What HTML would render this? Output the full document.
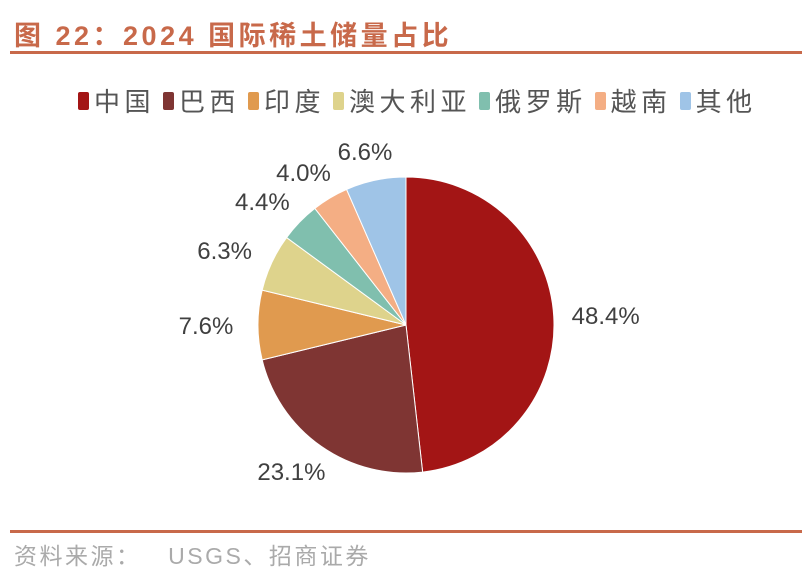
<!DOCTYPE html>
<html><head><meta charset="utf-8"><style>
body{margin:0;background:#fff;width:802px;height:582px;overflow:hidden;position:relative;font-family:"Liberation Sans","Noto Sans CJK SC",sans-serif}
.title{position:absolute;left:14px;top:14px;font-size:27px;font-weight:bold;color:#c8694a;letter-spacing:3.5px}
.rule{position:absolute;left:10px;right:0;height:3px;background:#c8694a}
.legend{position:absolute;top:82px;left:78px;display:flex;font-size:26px;color:#555;white-space:nowrap;letter-spacing:4.5px}
.li{display:flex;align-items:center;margin-right:8px}
.sw{width:11px;height:18px;border-radius:2px;margin-right:5px}
.src{position:absolute;left:14px;top:537px;font-size:23px;color:#aaa;letter-spacing:2.5px}
</style></head><body>
<div class="title">图 22：2024 国际稀土储量占比</div>
<div class="rule" style="top:51px"></div>
<div class="legend" id="legend"></div>
<svg id="pie" width="802" height="582" style="position:absolute;left:0;top:0"></svg>
<div class="rule" style="top:530px"></div>
<div class="src">资料来源：&nbsp;&nbsp;&nbsp;USGS、招商证券</div>
<script>
const categories=["中国","巴西","印度","澳大利亚","俄罗斯","越南","其他"];
const values=[48.4,23.1,7.6,6.3,4.4,4.0,6.6];
const labels=["48.4%","23.1%","7.6%","6.3%","4.4%","4.0%","6.6%"];
const colors=["#a31515","#7f3533","#e09a4f","#ded38c","#80bfae","#f4ae84","#9fc4e7"];
const ns="http://www.w3.org/2000/svg";
const svg=document.getElementById('pie');
const cx=406,cy=325,r=148;
const total=values.reduce((a,b)=>a+b,0);
let acc=0;
const pt=(f,rr)=>[cx+rr*Math.sin(f*2*Math.PI),cy-rr*Math.cos(f*2*Math.PI)];
values.forEach((v,i)=>{
  const f0=acc/total,f1=(acc+v)/total;acc+=v;
  const [x0,y0]=pt(f0,r),[x1,y1]=pt(f1,r);
  const p=document.createElementNS(ns,'path');
  p.setAttribute('d',`M${cx},${cy}L${x0},${y0}A${r},${r} 0 ${f1-f0>0.5?1:0} 1 ${x1},${y1}Z`);
  p.setAttribute('fill',colors[i]);p.setAttribute('stroke','#fff');p.setAttribute('stroke-width','1');
  
  
  svg.appendChild(p);
  const fm=(f0+f1)/2,s=Math.sin(fm*2*Math.PI);
  const [lx,ly]=pt(fm,178);
  const t=document.createElementNS(ns,'text');
  t.setAttribute('x',lx+22*s);t.setAttribute('y',ly+9);
  t.setAttribute('text-anchor','middle');t.setAttribute('font-size','24');t.setAttribute('fill','#404040');
  t.setAttribute('font-family','Liberation Sans, sans-serif');
  t.textContent=labels[i];
  
  
  svg.appendChild(t);
});
const lg=document.getElementById('legend');
categories.forEach((c,i)=>{
  const d=document.createElement('div');d.className='li';
  
  
  d.innerHTML=`<span class="sw" style="background:${colors[i]}"></span><span>${c}</span>`;
  lg.appendChild(d);
});
</script>
</body></html>
